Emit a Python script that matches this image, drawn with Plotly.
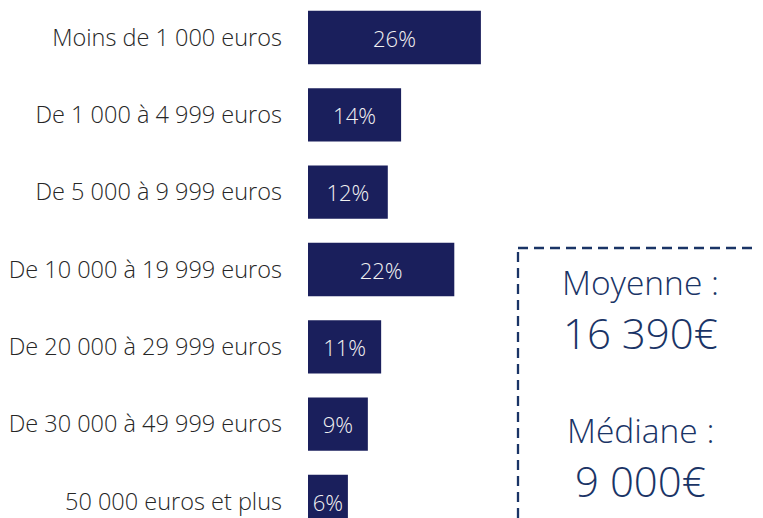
import plotly.graph_objects as go

categories = [
    "Moins de 1 000 euros",
    "De 1 000 à 4 999 euros",
    "De 5 000 à 9 999 euros",
    "De 10 000 à 19 999 euros",
    "De 20 000 à 29 999 euros",
    "De 30 000 à 49 999 euros",
    "50 000 euros et plus",
]
shares = [26, 14, 12, 22, 11, 9, 6]
bar_labels = [f"{v}%" for v in shares]

mean_label = "Moyenne :"
mean_value = "16 390€"
median_label = "Médiane :"
median_value = "9 000€"

BAR_COLOR = "#1a1f5c"
TEXT_DARK = "#262626"
NAVY = "#1a3466"
FONT = "Open Sans"

W, H = 763, 518
OFF = 8          # page body margin offsets the figure
L = 308 - OFF


def px_x(x):
    return (x - OFF - L) / (W - L)


def px_y(y):
    return 1 - (y - OFF) / H


# bar centres at 37.5 px (first) and 501.5 px (last) in the page
step = (501.5 - 37.5) / 6
y_top = -(37.5 - OFF) / step
y_bot = 6 + (H - (501.5 - OFF)) / step

fig = go.Figure(go.Bar(
    x=shares,
    y=list(range(len(categories))),
    orientation="h",
    marker=dict(color=BAR_COLOR, line=dict(width=0)),
    width=0.69,
    text=bar_labels,
    textposition="inside",
    insidetextanchor="middle",
    textangle=0,
    textfont=dict(color="#f2f2f2", size=22, family=FONT, weight=300),
    cliponaxis=False,
))

fig.update_layout(
    width=W, height=H,
    margin=dict(l=L, r=0, t=0, b=0),
    paper_bgcolor="white",
    plot_bgcolor="white",
    showlegend=False,
    font=dict(family=FONT, color=TEXT_DARK),
    xaxis=dict(range=[0, (W - L) / 6.65], visible=False),
    yaxis=dict(
        range=[y_bot, y_top],
        tickvals=list(range(len(categories))),
        ticktext=categories,
        tickfont=dict(size=23.5, color=TEXT_DARK, family=FONT, weight=300),
        ticklabelstandoff=25,
        showgrid=False, zeroline=False, showline=False,
    ),
)

# dashed box (top and left edges visible)
box = dict(color=NAVY, width=2.3, dash="10px,6px")
fig.add_shape(type="line", xref="paper", yref="paper",
              x0=px_x(518), x1=px_x(780), y0=px_y(248), y1=px_y(248), line=box)
fig.add_shape(type="line", xref="paper", yref="paper",
              x0=px_x(518), x1=px_x(518), y0=px_y(252), y1=px_y(540), line=box)

cx = px_x(640)
for txt, y, size in [(mean_label, 282, 33.5), (mean_value, 332, 42),
                     (median_label, 430, 33.5), (median_value, 480, 42)]:
    fig.add_annotation(x=cx, y=px_y(y), xref="paper", yref="paper",
                       text=txt, showarrow=False,
                       font=dict(size=size, color=NAVY, family=FONT, weight=300),
                       xanchor="center", yanchor="middle")

fig.write_html("out.html")
